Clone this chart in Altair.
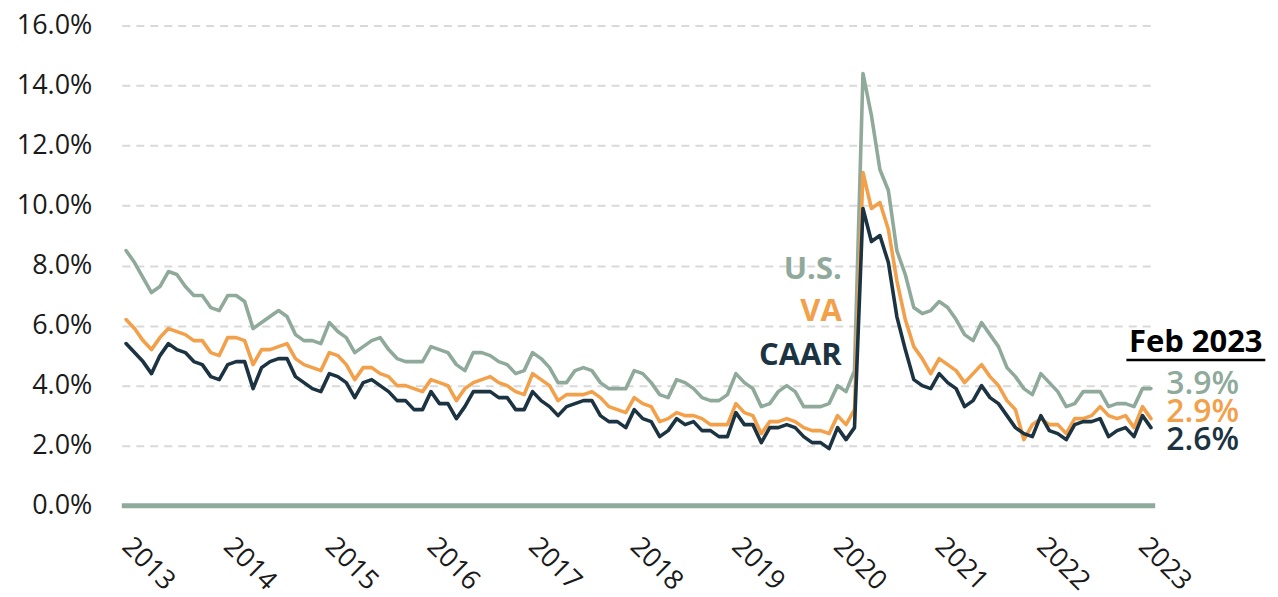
import altair as alt
import pandas as pd

# ---------------- data (monthly unemployment rate, %) ----------------
START_MONTH = "2013-01"
N_MONTHS = 122  # Jan 2013 .. Feb 2023

us = [
    8.5, 8.1, 7.6, 7.1, 7.3, 7.8, 7.7, 7.3, 7.0, 7.0, 6.6, 6.5,
    7.0, 7.0, 6.8, 5.9, 6.1, 6.3, 6.5, 6.3, 5.7, 5.5, 5.5, 5.4,
    6.1, 5.8, 5.6, 5.1, 5.3, 5.5, 5.6, 5.2, 4.9, 4.8, 4.8, 4.8,
    5.3, 5.2, 5.1, 4.7, 4.5, 5.1, 5.1, 5.0, 4.8, 4.7, 4.4, 4.5,
    5.1, 4.9, 4.6, 4.1, 4.1, 4.5, 4.6, 4.5, 4.1, 3.9, 3.9, 3.9,
    4.5, 4.4, 4.1, 3.7, 3.6, 4.2, 4.1, 3.9, 3.6, 3.5, 3.5, 3.7,
    4.4, 4.1, 3.9, 3.3, 3.4, 3.8, 4.0, 3.8, 3.3, 3.3, 3.3, 3.4,
    4.0, 3.8, 4.5, 14.4, 13.0, 11.2, 10.5, 8.5, 7.7, 6.6, 6.4, 6.5,
    6.8, 6.6, 6.2, 5.7, 5.5, 6.1, 5.7, 5.3, 4.6, 4.3, 3.9, 3.7,
    4.4, 4.1, 3.8, 3.3, 3.4, 3.8, 3.8, 3.8, 3.3, 3.4, 3.4, 3.3,
    3.9, 3.9,
]

va = [
    6.2, 5.9, 5.5, 5.2, 5.6, 5.9, 5.8, 5.7, 5.5, 5.5, 5.1, 5.0,
    5.6, 5.6, 5.5, 4.7, 5.2, 5.2, 5.3, 5.4, 4.9, 4.7, 4.6, 4.5,
    5.1, 5.0, 4.7, 4.2, 4.6, 4.6, 4.4, 4.3, 4.0, 4.0, 3.9, 3.8,
    4.2, 4.1, 4.0, 3.5, 3.9, 4.1, 4.2, 4.3, 4.1, 4.0, 3.8, 3.7,
    4.4, 4.2, 4.0, 3.5, 3.7, 3.7, 3.7, 3.8, 3.6, 3.3, 3.2, 3.1,
    3.6, 3.4, 3.3, 2.8, 2.9, 3.1, 3.0, 3.0, 2.9, 2.7, 2.7, 2.7,
    3.4, 3.1, 3.0, 2.4, 2.8, 2.8, 2.9, 2.8, 2.6, 2.5, 2.5, 2.4,
    3.0, 2.7, 3.2, 11.1, 9.9, 10.1, 9.2, 7.5, 6.2, 5.3, 4.9, 4.4,
    4.9, 4.7, 4.5, 4.1, 4.4, 4.7, 4.3, 4.0, 3.5, 3.2, 2.2, 2.7,
    2.9, 2.7, 2.7, 2.4, 2.9, 2.9, 3.0, 3.3, 3.0, 2.9, 3.0, 2.6,
    3.3, 2.9,
]

caar = [
    5.4, 5.1, 4.8, 4.4, 5.0, 5.4, 5.2, 5.1, 4.8, 4.7, 4.3, 4.2,
    4.7, 4.8, 4.8, 3.9, 4.6, 4.8, 4.9, 4.9, 4.3, 4.1, 3.9, 3.8,
    4.4, 4.3, 4.1, 3.6, 4.1, 4.2, 4.0, 3.8, 3.5, 3.5, 3.2, 3.2,
    3.8, 3.4, 3.4, 2.9, 3.3, 3.8, 3.8, 3.8, 3.6, 3.6, 3.2, 3.2,
    3.8, 3.5, 3.3, 3.0, 3.3, 3.4, 3.5, 3.5, 3.0, 2.8, 2.8, 2.6,
    3.2, 2.9, 2.8, 2.3, 2.5, 2.9, 2.7, 2.8, 2.5, 2.5, 2.3, 2.3,
    3.1, 2.7, 2.7, 2.1, 2.6, 2.6, 2.7, 2.6, 2.3, 2.1, 2.1, 1.9,
    2.6, 2.2, 2.6, 9.9, 8.8, 9.0, 8.1, 6.3, 5.2, 4.2, 4.0, 3.9,
    4.4, 4.1, 3.9, 3.3, 3.5, 4.0, 3.6, 3.4, 3.0, 2.6, 2.4, 2.3,
    3.0, 2.5, 2.4, 2.2, 2.7, 2.8, 2.8, 2.9, 2.3, 2.5, 2.6, 2.3,
    3.0, 2.6,
]

series_names = ["U.S.", "VA", "CAAR"]
series_colors = ["#8FAA9B", "#F2A04A", "#1C3342"]
y_ticks = [0, 2, 4, 6, 8, 10, 12, 14, 16]
first_year = 2013
year_ticks = [12 * k for k in range(11)]  # Jan of 2013..2023

# ---------------- tables ----------------
months = pd.date_range(START_MONTH, periods=N_MONTHS, freq="MS")
rows = []
for name, vals in zip(series_names, [us, va, caar]):
    for i, (m, v) in enumerate(zip(months, vals)):
        rows.append({"i": i, "month": m.strftime("%b %Y"), "series": name, "rate": v})
df = pd.DataFrame(rows)

last_month = months[-1].strftime("%b %Y")
last_vals = [us[-1], va[-1], caar[-1]]

# annotation positions (in data units of the chart's scales)
legend_df = pd.DataFrame({
    "label": series_names,
    "x": [84.5, 84.5, 84.5],
    "y": [7.85, 6.45, 4.99],
    "color": series_colors,
})
latest_df = pd.DataFrame({
    "label": [f"{v:.1f}%" for v in last_vals],
    "x": [122.8, 122.8, 122.8],
    "y": [4.06, 3.13, 2.20],
    "color": series_colors,
})
header_df = pd.DataFrame({"label": [last_month], "x": [118.4], "y": [5.42]})
underline_df = pd.DataFrame({"x": [118.1], "x2": [134.5], "y": [4.85]})

FONT = "Open Sans"
W, H = 1035, 481

x_scale = alt.Scale(domain=[-0.5, N_MONTHS - 0.5], nice=False, zero=False)
y_scale = alt.Scale(domain=[0, 16], nice=False)

x_enc = alt.X(
    "i:Q",
    scale=x_scale,
    axis=alt.Axis(
        values=year_ticks,
        labelExpr=f"toString({first_year} + datum.value / 12)",
        labelAngle=45,
        labelAlign="left",
        labelBaseline="top",
        labelPadding=27,
        labelOffset=9,
        labelFont=FONT,
        labelFontSize=27,
        labelColor="#1a1a1a",
        labelOverlap=False,
        labelBound=False,
        grid=False,
        ticks=False,
        domain=False,
        title=None,
    ),
)
y_enc = alt.Y(
    "rate:Q",
    scale=y_scale,
    axis=alt.Axis(
        values=y_ticks,
        labelExpr="format(datum.value, '.1f') + '%'",
        labelFont=FONT,
        labelFontSize=27,
        labelColor="#1a1a1a",
        labelPadding=30,
        grid=True,
        gridColor="#D9D9D9",
        gridWidth=2,
        gridDash=[8, 6],
        ticks=False,
        domain=False,
        title=None,
    ),
)

lines = alt.Chart(df).mark_line(
    strokeWidth=3.6, strokeJoin="round", strokeCap="round"
).encode(
    x=x_enc,
    y=y_enc,
    color=alt.Color(
        "series:N",
        scale=alt.Scale(domain=series_names, range=series_colors),
        legend=None,
    ),
    order=alt.Order("i:Q"),
    detail="series:N",
)

baseline = alt.Chart(pd.DataFrame({"y": [0]})).mark_rule(
    color="#8FAA9B", strokeWidth=5
).encode(y=alt.Y("y:Q", scale=y_scale))

legend_text = alt.Chart(legend_df).mark_text(
    font=FONT, fontSize=31, fontWeight="bold", align="right", baseline="middle"
).encode(
    x=alt.X("x:Q", scale=x_scale),
    y=alt.Y("y:Q", scale=y_scale),
    text="label:N",
    color=alt.Color("color:N", scale=None),
)

latest_text = alt.Chart(latest_df).mark_text(
    font=FONT, fontSize=32, fontWeight=600, align="left", baseline="middle"
).encode(
    x=alt.X("x:Q", scale=x_scale),
    y=alt.Y("y:Q", scale=y_scale),
    text="label:N",
    color=alt.Color("color:N", scale=None),
)

header_text = alt.Chart(header_df).mark_text(
    font=FONT, fontSize=31, fontWeight="bold", align="left", baseline="middle",
    color="#000000",
).encode(
    x=alt.X("x:Q", scale=x_scale),
    y=alt.Y("y:Q", scale=y_scale),
    text="label:N",
)

underline = alt.Chart(underline_df).mark_rule(color="#000000", strokeWidth=2.5).encode(
    x=alt.X("x:Q", scale=x_scale),
    x2="x2:Q",
    y=alt.Y("y:Q", scale=y_scale),
)

chart = alt.layer(
    baseline, lines, legend_text, header_text, underline, latest_text
).properties(
    width=W,
    height=H,
    autosize=alt.AutoSizeParams(type="none"),
    padding={"left": 114, "top": 17, "right": 115, "bottom": 90},
    background="white",
).configure_view(stroke=None)

chart.save("out.html", embed_options={"renderer": "svg", "actions": False})
